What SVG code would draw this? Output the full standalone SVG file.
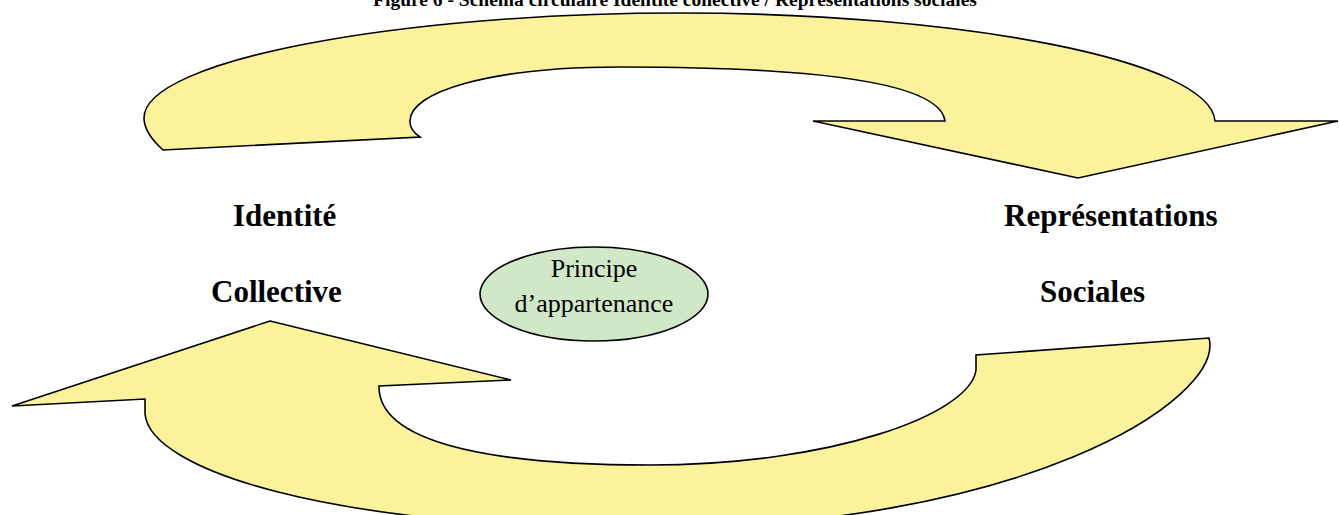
<svg xmlns="http://www.w3.org/2000/svg" width="1339" height="515" viewBox="0 0 1339 515">
<style>
.arrow{fill:#FAF39B;stroke:#000;stroke-width:1.6;stroke-linejoin:miter}
.lbl{font-family:"Liberation Serif","Times New Roman",serif;font-weight:bold;font-size:31px;fill:#000}
.ell{fill:#D0E8C7;stroke:#000;stroke-width:1.6}
.etxt{font-family:"Liberation Serif","Times New Roman",serif;font-size:26px;fill:#000;text-anchor:middle}
.title{font-family:"Liberation Serif","Times New Roman",serif;font-weight:bold;font-size:19.5px;fill:#000;text-anchor:middle}
</style>
<rect width="1339" height="515" fill="#fff"/>
<text class="title" x="675" y="6">Figure 6 - Schéma circulaire Identité collective / Représentations sociales</text>
<g id="connectors">
<path id="arrow-top" class="arrow" d="M163,150 C152,140 144,130 144,118 C144,60 400,13 680,13 C960,13 1210,60 1215,121 L1338,121 L1078,178 L813,121 L945,121 C940,80 800,67 620,67 C490,67 408,92 410,122 C410,128 414,133 420,137 Z"/>
<path id="arrow-bottom" class="arrow" d="M270,321 L511,380 L379,386 C378,440 480,465 650,465 C830,465 970,415 976,370 L976,355 L1209,338 C1225,400 1020,530 640,528 C330,528 150,470 145,414 L145,399 L12,406 Z"/>
</g>
<g id="node-identite">
<text class="lbl" x="233" y="226">Identité</text>
<text class="lbl" x="211" y="302">Collective</text>
</g>
<g id="node-representations">
<text class="lbl" x="1004" y="226">Représentations</text>
<text class="lbl" x="1040" y="302">Sociales</text>
</g>
<g id="node-principe">
<ellipse class="ell" cx="594" cy="294" rx="114" ry="47"/>
<text class="etxt" x="594" y="277">Principe</text>
<text class="etxt" x="594" y="312">d’appartenance</text>
</g>
</svg>
